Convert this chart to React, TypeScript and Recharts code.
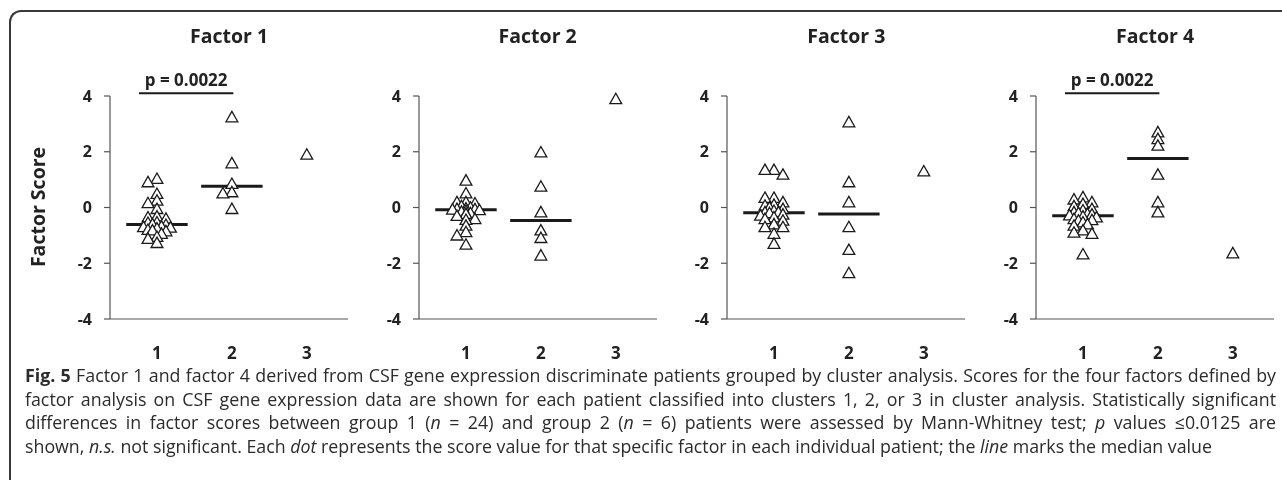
import React from 'react';
import { ScatterChart, Scatter, XAxis, YAxis, ReferenceLine } from 'recharts';

const factorTitles = ['Factor 1', 'Factor 2', 'Factor 3', 'Factor 4'];
const clusterTicks = [1, 2, 3];
const scoreTicks = [-4, -2, 0, 2, 4];

const factor1Cluster1 = [1.03, 0.91, 0.49, 0.25, 0.16, -0.05, -0.32, -0.35, -0.4, -0.53, -0.55, -0.6, -0.62, -0.68, -0.7, -0.72, -0.75, -0.8, -0.82, -0.85, -0.94, -1.05, -1.12, -1.27];
const factor1Cluster2 = [3.24, 1.59, 0.85, 0.55, 0.51, -0.05];
const factor1Cluster3 = [1.9];
const factor1Medians = [-0.61, 0.76];

const factor2Cluster1 = [0.97, 0.51, 0.19, 0.19, 0.15, 0.05, 0.0, -0.03, -0.05, -0.06, -0.07, -0.09, -0.12, -0.15, -0.2, -0.23, -0.23, -0.3, -0.41, -0.44, -0.65, -0.88, -1.0, -1.33];
const factor2Cluster2 = [1.98, 0.75, -0.17, -0.82, -1.09, -1.72];
const factor2Cluster3 = [3.89];
const factor2Medians = [-0.08, -0.47];

const factor3Cluster1 = [1.35, 1.35, 1.18, 0.35, 0.35, 0.19, 0.1, 0.07, 0.0, -0.05, -0.12, -0.17, -0.17, -0.2, -0.25, -0.29, -0.35, -0.41, -0.47, -0.6, -0.7, -0.7, -0.94, -1.3];
const factor3Cluster2 = [3.06, 0.91, 0.19, -0.7, -1.52, -2.35];
const factor3Cluster3 = [1.3];
const factor3Medians = [-0.19, -0.23];

const factor4Cluster1 = [0.37, 0.29, 0.19, 0.13, 0.05, -0.05, -0.1, -0.17, -0.2, -0.23, -0.25, -0.28, -0.32, -0.35, -0.41, -0.45, -0.47, -0.53, -0.6, -0.65, -0.82, -0.9, -0.94, -1.68];
const factor4Cluster2 = [2.7, 2.46, 2.22, 1.18, 0.19, -0.17];
const factor4Cluster3 = [-1.64];
const factor4Medians = [-0.3, 1.76];

const pValueLabels = ['p = 0.0022', '', '', 'p = 0.0022'];
const pComparedClusters = [1, 2];

const factorGroups = [
  [factor1Cluster1, factor1Cluster2, factor1Cluster3],
  [factor2Cluster1, factor2Cluster2, factor2Cluster3],
  [factor3Cluster1, factor3Cluster2, factor3Cluster3],
  [factor4Cluster1, factor4Cluster2, factor4Cluster3],
];
const factorMedians = [factor1Medians, factor2Medians, factor3Medians, factor4Medians];

// layout / style constants
const CHART_W = 340;
const CHART_H = 360;
const PLOT_LEFT = 100;
const PLOT_W = 238;
const PANEL_PITCH = 308.67;
const X_DOMAIN: [number, number] = [0.373, 3.55];
const MEDIAN_HALF = 0.41;
const JITTER = [0, -0.12, 0.12, -0.06, 0.06, -0.18, 0.18];
const FONT = '"Open Sans", "Noto Sans", sans-serif';
const INK = '#222';

function layoutGroup(values: number[], cluster: number) {
  const sorted = [...values].sort((a, b) => b - a);
  const placed: { x: number; y: number }[] = [];
  for (const v of sorted) {
    const off =
      JITTER.find(
        (c) => !placed.some((p) => Math.abs(p.x - (cluster + c)) < 0.05 && Math.abs(p.y - v) < 0.2)
      ) ?? 0;
    placed.push({ x: cluster + off, y: v });
  }
  return placed;
}

const Triangle = (props: any) => {
  const { cx, cy } = props;
  if (cx == null || cy == null) return null;
  return (
    <path
      d={`M${cx},${cy - 5.8} L${cx + 5.9},${cy + 4.6} L${cx - 5.9},${cy + 4.6} Z`}
      fill="#fff"
      stroke="#1a1a1a"
      strokeWidth={1.3}
    />
  );
};

const tickStyle = { fontSize: 16, fontWeight: 700, fill: INK, fontFamily: FONT };

function FactorPanel({ i }: { i: number }) {
  const groups = factorGroups[i];
  const medians = factorMedians[i];
  const data = groups.flatMap((vals, gi) => layoutGroup(vals, clusterTicks[gi]));
  const pLabel = pValueLabels[i];
  const left = 2 + i * PANEL_PITCH;
  return (
    <div style={{ position: 'absolute', left, top: 0, width: CHART_W, height: CHART_H }}>
      <div
        style={{
          position: 'absolute',
          left: PLOT_LEFT,
          width: PLOT_W,
          top: 15,
          textAlign: 'center',
          fontWeight: 700,
          fontSize: 19.5,
          lineHeight: '26px',
          color: INK,
          fontFamily: FONT,
        }}
      >
        {factorTitles[i]}
      </div>
      <ScatterChart width={CHART_W} height={CHART_H} margin={{ top: 88, right: 2, bottom: 4, left: 40 }}>
        <XAxis
          type="number"
          dataKey="x"
          domain={X_DOMAIN}
          ticks={clusterTicks}
          interval={0}
          tickLine={false}
          axisLine={{ stroke: '#555', strokeWidth: 1.2 }}
          tickSize={6}
          tickMargin={22}
          height={45}
          tick={{ ...tickStyle, fontSize: 17 }}
        />
        <YAxis
          type="number"
          dataKey="y"
          domain={[-4, 4]}
          ticks={scoreTicks}
          interval={0}
          width={60}
          tickSize={6}
          tickMargin={12}
          axisLine={{ stroke: '#555', strokeWidth: 1.2 }}
          tickLine={{ stroke: '#555', strokeWidth: 1.2 }}
          tick={tickStyle}
        />
        <Scatter data={data} shape={Triangle} isAnimationActive={false} />
        {medians.map((m, gi) => (
          <ReferenceLine
            key={gi}
            segment={[
              { x: clusterTicks[gi] - MEDIAN_HALF, y: m },
              { x: clusterTicks[gi] + MEDIAN_HALF, y: m },
            ]}
            stroke="#1a1a1a"
            strokeWidth={3}
            ifOverflow="visible"
          />
        ))}
        {pLabel ? (
          <ReferenceLine
            segment={[
              { x: pComparedClusters[0] - 0.24, y: 4.1 },
              { x: pComparedClusters[1] + 0.02, y: 4.1 },
            ]}
            stroke="#1a1a1a"
            strokeWidth={2}
            ifOverflow="visible"
            label={{
              value: pLabel,
              position: 'top',
              offset: 7,
              fill: INK,
              fontSize: 17,
              fontWeight: 700,
              fontFamily: FONT,
            }}
          />
        ) : null}
      </ScatterChart>
    </div>
  );
}

const captionLine: React.CSSProperties = {
  textAlign: 'justify',
  textAlignLast: 'justify',
  whiteSpace: 'nowrap',
};

export default function App() {
  return (
    <div style={{ position: 'fixed', left: 0, top: 0, width: 1282, height: 480, overflow: 'hidden' }}>
      <div
        style={{
          position: 'absolute',
          left: 8,
          top: 8,
          width: 1274,
          height: 472,
          fontFamily: FONT,
          color: INK,
        }}
      >
        <div
          style={{
            position: 'absolute',
            left: 1,
            top: 2,
            width: 1400,
            height: 600,
            borderTop: '2px solid #3a3a3a',
            borderLeft: '2px solid #3a3a3a',
            borderTopLeftRadius: 12,
          }}
        />
        {[0, 1, 2, 3].map((i) => (
          <FactorPanel key={i} i={i} />
        ))}
        <div
          style={{
            position: 'absolute',
            left: -70,
            top: 187,
            width: 200,
            height: 24,
            lineHeight: '24px',
            textAlign: 'center',
            transform: 'rotate(-90deg)',
            fontWeight: 700,
            fontSize: 19.5,
            color: INK,
          }}
        >
          Factor Score
        </div>
        <div
          style={{
            position: 'absolute',
            left: 17,
            top: 356,
            width: 1251,
            fontSize: 17.8,
            lineHeight: '23.5px',
            color: '#2b2b2b',
          }}
        >
          <div style={captionLine}>
            <b>Fig. 5</b> Factor 1 and factor 4 derived from CSF gene expression discriminate patients grouped by cluster analysis. Scores for the four factors defined by
          </div>
          <div style={captionLine}>
            factor analysis on CSF gene expression data are shown for each patient classified into clusters 1, 2, or 3 in cluster analysis. Statistically significant
          </div>
          <div style={captionLine}>
            differences in factor scores between group 1 (<i>n</i> = 24) and group 2 (<i>n</i> = 6) patients were assessed by Mann-Whitney test; <i>p</i> values ≤0.0125 are
          </div>
          <div style={{ whiteSpace: 'nowrap' }}>
            shown, <i>n.s.</i> not significant. Each <i>dot</i> represents the score value for that specific factor in each individual patient; the <i>line</i> marks the median value
          </div>
        </div>
      </div>
    </div>
  );
}
